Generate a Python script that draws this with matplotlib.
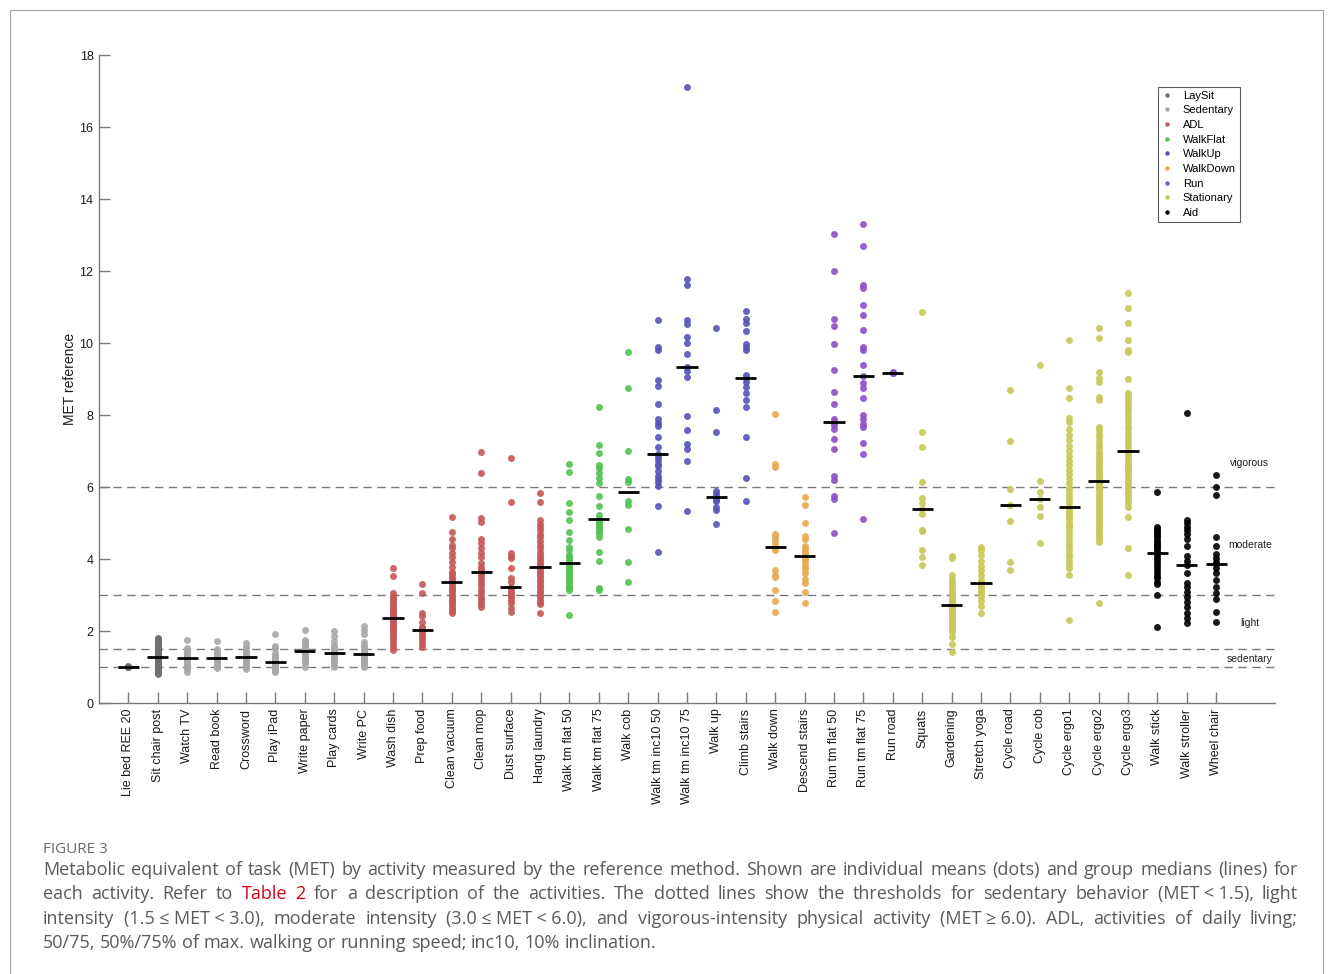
import numpy as np
import matplotlib
matplotlib.use('Agg')
import matplotlib.pyplot as plt
from matplotlib.lines import Line2D
from matplotlib.patches import Rectangle

plt.rcParams['font.family'] = 'Liberation Sans'

# Activities in plotting order and the group each belongs to
activities = ['Lie bed REE 20', 'Sit chair post', 'Watch TV', 'Read book', 'Crossword',
              'Play iPad', 'Write paper', 'Play cards', 'Write PC', 'Wash dish', 'Prep food',
              'Clean vacuum', 'Clean mop', 'Dust surface', 'Hang laundry', 'Walk tm flat 50',
              'Walk tm flat 75', 'Walk cob', 'Walk tm inc10 50', 'Walk tm inc10 75', 'Walk up',
              'Climb stairs', 'Walk down', 'Descend stairs', 'Run tm flat 50', 'Run tm flat 75',
              'Run road', 'Squats', 'Gardening', 'Stretch yoga', 'Cycle road', 'Cycle cob',
              'Cycle ergo1', 'Cycle ergo2', 'Cycle ergo3', 'Walk stick', 'Walk stroller',
              'Wheel chair']
activity_groups = (['LaySit'] * 2 + ['Sedentary'] * 7 + ['ADL'] * 6 + ['WalkFlat'] * 3
                   + ['WalkUp'] * 4 + ['WalkDown'] * 2 + ['Run'] * 3 + ['Stationary'] * 8
                   + ['Aid'] * 3)

group_names = ['LaySit', 'Sedentary', 'ADL', 'WalkFlat', 'WalkUp', 'WalkDown', 'Run',
               'Stationary', 'Aid']
group_colors = ['#6f6f6f', '#a8a8a8', '#c4585a', '#52c152', '#5454b8', '#e7aa52',
                '#8b50c4', '#c8c858', '#000000']

# Individual mean MET per participant, one list per activity
laysit_met = [
    [1.02, 1.00, 0.99, 1.00],
    [1.82, 1.78, 1.74, 1.70, 1.66, 1.62, 1.58, 1.54, 1.50, 1.47, 1.44, 1.41, 1.38, 1.35, 1.32,
     1.30, 1.28, 1.26, 1.23, 1.20, 1.17, 1.14, 1.11, 1.08, 1.05, 1.02, 0.99, 0.96, 0.93, 0.90,
     0.87, 0.84, 0.81],
]
sedentary_met = [
    [1.74, 1.52, 1.45, 1.40, 1.36, 1.32, 1.28, 1.26, 1.24, 1.20, 1.16, 1.12, 1.08, 1.04, 1.00,
     0.95, 0.87],
    [1.71, 1.49, 1.44, 1.40, 1.36, 1.32, 1.29, 1.26, 1.22, 1.18, 1.14, 1.10, 1.06, 1.02, 0.97],
    [1.68, 1.55, 1.48, 1.43, 1.38, 1.34, 1.31, 1.29, 1.25, 1.21, 1.17, 1.12, 1.06, 1.00, 0.94],
    [1.92, 1.58, 1.52, 1.40, 1.32, 1.27, 1.22, 1.18, 1.15, 1.12, 1.08, 1.04, 1.00, 0.96, 0.92,
     0.89, 0.86],
    [2.03, 1.75, 1.70, 1.66, 1.62, 1.58, 1.54, 1.50, 1.47, 1.44, 1.41, 1.37, 1.33, 1.29, 1.25,
     1.20, 1.15, 1.10, 1.01],
    [2.00, 1.87, 1.72, 1.62, 1.57, 1.52, 1.47, 1.43, 1.40, 1.36, 1.32, 1.28, 1.23, 1.18, 1.13,
     1.07, 1.01],
    [2.14, 2.03, 1.92, 1.70, 1.62, 1.55, 1.50, 1.45, 1.40, 1.36, 1.33, 1.29, 1.25, 1.21, 1.17,
     1.13, 1.09, 1.05, 1.00],
]
adl_met = [
    [3.74, 3.53, 3.05, 2.98, 2.92, 2.86, 2.80, 2.74, 2.68, 2.62, 2.57, 2.52, 2.47, 2.43, 2.39,
     2.35, 2.31, 2.27, 2.22, 2.17, 2.12, 2.07, 2.02, 1.96, 1.90, 1.84, 1.78, 1.71, 1.64, 1.56,
     1.48],
    [3.31, 3.05, 2.51, 2.42, 2.26, 2.12, 2.08, 2.03, 1.99, 1.92, 1.86, 1.80, 1.72, 1.65, 1.55],
    [5.16, 4.76, 4.57, 4.39, 4.30, 4.18, 4.06, 3.92, 3.77, 3.65, 3.58, 3.51, 3.44, 3.40, 3.36,
     3.30, 3.23, 3.16, 3.10, 3.05, 2.98, 2.92, 2.86, 2.80, 2.74, 2.68, 2.60, 2.55, 2.49],
    [6.96, 6.40, 5.13, 5.02, 4.57, 4.44, 4.30, 4.18, 4.06, 3.88, 3.78, 3.70, 3.65, 3.58, 3.51,
     3.42, 3.33, 3.24, 3.14, 3.05, 2.95, 2.88, 2.81, 2.74, 2.68],
    [6.80, 5.59, 4.16, 4.08, 4.02, 3.76, 3.48, 3.37, 3.23, 3.16, 3.09, 3.02, 2.95, 2.86, 2.77,
     2.65, 2.54],
    [5.84, 5.59, 5.08, 4.98, 4.90, 4.80, 4.70, 4.60, 4.50, 4.40, 4.30, 4.20, 4.12, 4.04, 3.96,
     3.89, 3.84, 3.79, 3.74, 3.68, 3.62, 3.56, 3.50, 3.43, 3.36, 3.29, 3.22, 3.15, 3.08, 3.01,
     2.94, 2.87, 2.80, 2.75, 2.49],
]
walkflat_met = [
    [6.64, 6.42, 5.55, 5.31, 5.08, 4.76, 4.54, 4.34, 4.25, 4.12, 4.06, 3.98, 3.89, 3.82, 3.75,
     3.68, 3.60, 3.52, 3.45, 3.38, 3.30, 3.22, 3.19, 3.14, 2.44],
    [8.23, 7.17, 6.95, 6.61, 6.52, 6.38, 6.24, 6.10, 5.75, 5.47, 5.22, 5.11, 5.04, 4.98, 4.90,
     4.85, 4.78, 4.71, 4.62, 4.20, 3.94, 3.19, 3.15],
    [9.76, 8.74, 6.99, 6.23, 6.15, 5.60, 5.49, 4.84, 3.92, 3.36],
]
walkup_met = [
    [10.65, 9.88, 9.81, 8.97, 8.82, 8.30, 7.88, 7.78, 7.70, 7.39, 7.11, 6.91, 6.84, 6.74, 6.65,
     6.59, 6.45, 6.30, 6.22, 6.15, 6.02, 5.46, 4.19],
    [17.12, 11.79, 11.62, 10.65, 10.53, 10.18, 10.01, 9.69, 9.34, 9.22, 9.05, 7.98, 7.58, 7.19,
     7.07, 6.71, 5.34],
    [10.43, 8.13, 7.54, 5.88, 5.80, 5.72, 5.65, 5.60, 5.45, 5.36, 4.96],
    [10.88, 10.68, 10.55, 10.33, 9.98, 9.88, 9.80, 9.10, 9.04, 8.92, 8.77, 8.60, 8.43, 8.23,
     7.39, 6.25, 5.60],
]
walkdown_met = [
    [8.03, 6.65, 6.55, 4.70, 4.63, 4.56, 4.45, 4.33, 4.25, 3.69, 3.55, 3.49, 3.14, 2.84, 2.54],
    [5.72, 5.50, 4.99, 4.63, 4.55, 4.35, 4.28, 4.20, 4.15, 4.08, 4.00, 3.92, 3.82, 3.72, 3.60,
     3.45, 3.34, 3.09, 2.79],
]
run_met = [
    [13.02, 12.00, 10.67, 10.47, 9.98, 9.26, 8.64, 8.32, 7.88, 7.81, 7.72, 7.60, 7.33, 7.05,
     6.31, 6.19, 5.76, 5.67, 4.73],
    [13.30, 12.70, 11.61, 11.53, 11.06, 10.78, 10.36, 9.90, 9.81, 9.40, 9.08, 8.89, 8.75, 8.46,
     8.00, 7.88, 7.76, 7.67, 7.21, 6.91, 5.12],
    [9.20, 9.18, 9.16],
]
stationary_met = [
    [10.87, 7.52, 7.10, 6.15, 5.69, 5.55, 5.38, 5.24, 4.82, 4.78, 4.25, 4.05, 3.83],
    [4.08, 4.02, 3.56, 3.45, 3.38, 3.30, 3.22, 3.15, 3.05, 2.98, 2.90, 2.85, 2.80, 2.75, 2.72,
     2.68, 2.62, 2.55, 2.50, 2.42, 2.35, 2.28, 2.20, 2.12, 2.05, 1.98, 1.84, 1.65, 1.43],
    [4.34, 4.25, 4.12, 3.94, 3.80, 3.69, 3.55, 3.42, 3.34, 3.28, 3.19, 3.10, 3.05, 2.95, 2.83,
     2.70, 2.49],
    [8.69, 7.28, 5.94, 5.50, 5.06, 3.93, 3.69],
    [9.39, 6.18, 5.87, 5.66, 5.44, 5.20, 4.44],
    [10.08, 8.76, 8.46, 7.93, 7.80, 7.62, 7.45, 7.30, 7.15, 7.00, 6.85, 6.72, 6.60, 6.48, 6.35,
     6.22, 6.10, 5.98, 5.88, 5.78, 5.68, 5.58, 5.48, 5.42, 5.38, 5.30, 5.28, 5.22, 5.18, 5.08,
     4.98, 4.92, 4.88, 4.78, 4.66, 4.55, 4.45, 4.35, 4.25, 4.15, 4.05, 3.95, 3.85, 3.74, 3.57,
     2.32],
    [10.41, 10.15, 9.20, 9.02, 8.93, 8.50, 8.42, 7.68, 7.58, 7.48, 7.38, 7.28, 7.18, 7.08, 6.98,
     6.90, 6.82, 6.74, 6.66, 6.58, 6.50, 6.42, 6.34, 6.26, 6.17, 6.12, 6.08, 6.00, 5.96, 5.92,
     5.84, 5.76, 5.68, 5.60, 5.52, 5.44, 5.36, 5.28, 5.20, 5.12, 5.04, 4.96, 4.88, 4.80, 4.72,
     4.64, 4.56, 4.48, 2.77],
    [11.40, 10.98, 10.57, 10.08, 9.82, 9.76, 8.99, 8.60, 8.52, 8.44, 8.36, 8.28, 8.20, 8.10,
     8.00, 7.90, 7.80, 7.70, 7.60, 7.50, 7.40, 7.30, 7.20, 7.10, 7.01, 6.96, 6.92, 6.84, 6.76,
     6.68, 6.60, 6.52, 6.48, 6.44, 6.36, 6.28, 6.20, 6.12, 6.04, 5.96, 5.88, 5.80, 5.72, 5.64,
     5.55, 5.45, 5.18, 4.32, 3.57],
]
aid_met = [
    [5.87, 4.90, 4.84, 4.78, 4.72, 4.66, 4.60, 4.54, 4.48, 4.42, 4.36, 4.30, 4.24, 4.18, 4.10,
     4.02, 3.94, 3.86, 3.78, 3.70, 3.62, 3.54, 3.46, 3.37, 3.30, 3.00, 2.10],
    [8.07, 5.08, 4.99, 4.90, 4.81, 4.69, 4.57, 4.36, 4.08, 3.95, 3.84, 3.60, 3.34, 3.23, 3.09,
     2.95, 2.81, 2.66, 2.51, 2.35, 2.21],
    [6.33, 6.01, 5.77, 4.62, 4.36, 4.15, 4.02, 3.92, 3.85, 3.74, 3.60, 3.42, 3.23, 3.05, 2.88,
     2.54, 2.26],
]
met_values = (laysit_met + sedentary_met + adl_met + walkflat_met + walkup_met + walkdown_met
              + run_met + stationary_met + aid_met)

# Intensity cut-offs and their names
thresholds = [1.0, 1.5, 3.0, 6.0]
intensity_labels = ['sedentary', 'light', 'moderate', 'vigorous']
intensity_label_y = [1.22, 2.22, 4.39, 6.67]

caption_title = 'FIGURE 3'
caption_lines = [
    'Metabolic equivalent of task (MET) by activity measured by the reference method. Shown are '
    'individual means (dots) and group medians (lines) for',
    'each activity. Refer to Table 2 for a description of the activities. The dotted lines show '
    'the thresholds for sedentary behavior (MET\u2005<\u20051.5), light',
    'intensity (1.5\u2005\u2264\u2005MET\u2005<\u20053.0), moderate intensity '
    '(3.0\u2005\u2264\u2005MET\u2005<\u20056.0), and vigorous-intensity physical activity '
    '(MET\u2005\u2265\u20056.0). ADL, activities of daily living;',
    '50/75, 50%/75% of max. walking or running speed; inc10, 10% inclination.',
]

fig = plt.figure(figsize=(13.33, 9.74), dpi=100)
ax = fig.add_axes([0.0743, 0.2782, 0.8822, 0.6653])

color_of = dict(zip(group_names, group_colors))
x = np.arange(1, len(activities) + 1)

for th in thresholds:
    ax.axhline(th, color='#7a7a7a', lw=1.0, dashes=(6, 4), zorder=1)

for xi, vals, grp in zip(x, met_values, activity_groups):
    vals = np.asarray(vals)
    ax.plot(np.full(len(vals), xi), vals, 'o', ms=5.0, mew=0, color=color_of[grp],
            alpha=0.9, zorder=2)
    med = np.median(vals)
    ax.plot([xi - 0.36, xi + 0.36], [med, med], color='black', lw=2.0,
            solid_capstyle='butt', zorder=3)

for lab, ly in zip(intensity_labels, intensity_label_y):
    ax.text(39.15, ly, lab, ha='center', va='center', fontsize=7.5, color='#222222')

ax.set_xlim(0, 40)
ax.set_ylim(0, 18)
ax.set_yticks(np.arange(0, 19, 2))
ax.set_xticks(x)
ax.set_xticklabels(activities, rotation=90, fontsize=9, color='#1a1a1a')
ax.tick_params(axis='y', labelsize=9, labelcolor='#1a1a1a')
ax.tick_params(direction='in', length=8, width=1, color='#7a7a7a', pad=4)
ax.set_ylabel('MET reference', fontsize=10, color='#1a1a1a', labelpad=2)
for side in ['top', 'right']:
    ax.spines[side].set_visible(False)
for side in ['left', 'bottom']:
    ax.spines[side].set_color('#7a7a7a')
    ax.spines[side].set_linewidth(1.0)

handles = [Line2D([], [], ls='none', marker='o', ms=3.2, mew=0, color=c) for c in group_colors]
leg = ax.legend(handles, group_names, loc='upper right', bbox_to_anchor=(0.970, 0.951),
                fontsize=8, frameon=True, fancybox=False, edgecolor='#333333',
                handlelength=1.0, handletextpad=0.9, labelspacing=0.42, borderpad=0.35,
                borderaxespad=0)
leg.get_frame().set_linewidth(0.8)

# Caption block below the chart
fig.add_artist(Rectangle((10 / 1333, -0.02), 1313 / 1333, 1 - 10 / 974 + 0.02,
                         transform=fig.transFigure, fill=False, ec='#a5a5a5', lw=0.8))
cap_font = ['Open Sans', 'DejaVu Sans']
fig.text(43 / 1333, 1 - 853 / 974, caption_title, fontsize=11, color='#6a6a6a',
         family=cap_font, va='baseline')

renderer = fig.canvas.get_renderer()
left_px, right_px = 43, 1298
cap_size = 13
for i, line in enumerate(caption_lines):
    words = line.split(' ')
    base_y = 1 - (875 + i * 24.3) / 974
    texts = []
    for w in words:
        col = '#d0021b' if (i == 1 and w in ('Table', '2')) else '#5a5a5a'
        texts.append(fig.text(0, base_y, w, fontsize=cap_size, color=col, family=cap_font,
                              va='baseline'))
    widths = [t.get_window_extent(renderer).width for t in texts]
    space = cap_size * 100 / 72 * 0.26
    if i < len(caption_lines) - 1:
        gap = max(space, (right_px - left_px - sum(widths)) / (len(words) - 1))
    else:
        gap = space
    pos = left_px
    for t, w in zip(texts, widths):
        t.set_x(pos / 1333)
        pos += w + gap

fig.savefig('out.png', dpi=100)
